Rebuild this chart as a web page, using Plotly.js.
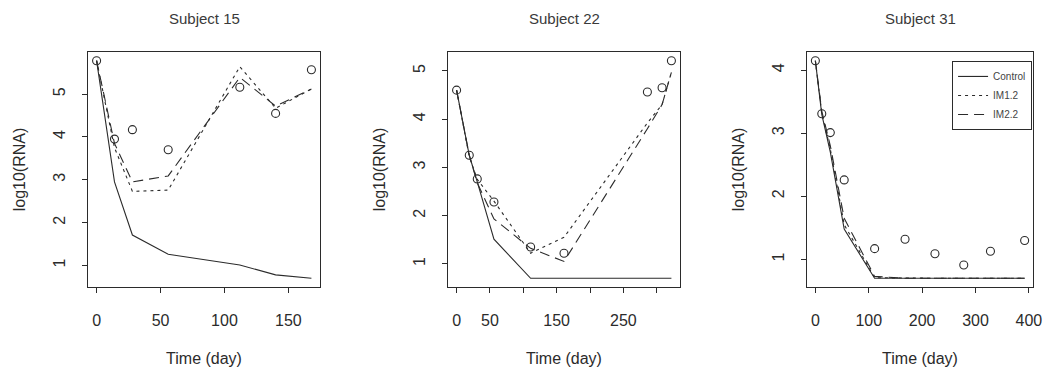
<!DOCTYPE html>
<html>
<head>
<meta charset="utf-8">
<script src="https://cdn.plot.ly/plotly-3.0.1.min.js"></script>
<style>html,body{margin:0;padding:0;background:#fff;}#chart{width:1055px;height:370px;}</style>
</head>
<body>
<div id="chart"></div>
<script>
// ---- Data ----
const subjects = ["Subject 15", "Subject 22", "Subject 31"];
const seriesNames = ["Control", "IM1.2", "IM2.2"];

const days15    = [0, 14, 28, 56, 112, 140, 168];
const obs15     = [5.78, 3.95, 4.17, 3.70, 5.16, 4.55, 5.57];
const control15 = [5.78, 2.95, 1.71, 1.26, 1.01, 0.78, 0.70];
const im1_15    = [5.78, 3.75, 2.73, 2.76, 5.64, 4.67, 5.12];
const im2_15    = [5.78, 3.85, 2.95, 3.09, 5.39, 4.72, 5.12];

const days22    = [0, 19, 31, 56, 111, 161, 286, 308, 322];
const obs22     = [4.60, 3.25, 2.76, 2.28, 1.35, 1.22, 4.56, 4.65, 5.21];
const control22 = [4.60, 3.25, 2.70, 1.51, 0.70, 0.70, 0.70, 0.70, 0.70];
const im1_22    = [4.60, 3.22, 2.75, 2.30, 1.22, 1.55, 3.92, 4.30, 4.97];
const im2_22    = [4.60, 3.25, 2.68, 1.93, 1.32, 1.05, 3.80, 4.30, 4.97];

const days31    = [0, 12, 28, 54, 111, 168, 224, 278, 328, 392];
const obs31     = [4.15, 3.31, 3.01, 2.26, 1.17, 1.32, 1.09, 0.91, 1.13, 1.30];
const control31 = [4.15, 3.30, 2.70, 1.48, 0.70, 0.70, 0.70, 0.70, 0.70, 0.70];
const im1_31    = [4.15, 3.32, 2.75, 1.55, 0.71, 0.70, 0.70, 0.70, 0.70, 0.70];
const im2_31    = [4.15, 3.35, 2.80, 1.65, 0.73, 0.70, 0.70, 0.70, 0.70, 0.70];

const xTicks15 = [0, 50, 100, 150];
const xTickText15 = ["0", "50", "100", "150"];
const xTicks22 = [0, 50, 100, 150, 200, 250, 300];
const xTickText22 = ["0", "50", "", "150", "", "250", ""];
const xTicks31 = [0, 100, 200, 300, 400];
const xTickText31 = ["0", "100", "200", "300", "400"];
const yTicks15 = [1, 2, 3, 4, 5];
const yTicks22 = [1, 2, 3, 4, 5];
const yTicks31 = [1, 2, 3, 4];

// ---- Build ----
const panels = [
  {days: days15, obs: obs15, fits: [control15, im1_15, im2_15], xt: xTicks15, xtt: xTickText15, yt: yTicks15},
  {days: days22, obs: obs22, fits: [control22, im1_22, im2_22], xt: xTicks22, xtt: xTickText22, yt: yTicks22},
  {days: days31, obs: obs31, fits: [control31, im1_31, im2_31], xt: xTicks31, xtt: xTickText31, yt: yTicks31}
];

const INK = "#2b2b2b";
const FONT = "Liberation Sans, Arial, Helvetica, sans-serif";
const dashes = ["solid", "3px,4px", "10px,6px"];

function rRange(arrs) {
  const all = [].concat(...arrs);
  const lo = Math.min(...all), hi = Math.max(...all);
  const e = (hi - lo) * 0.04;
  return [lo - e, hi + e];
}

const W = 1055, ML = 88, MR = 22;
const plotW = W - ML - MR;
const boxes = [[88, 320], [448, 680], [807, 1033]];

const traces = [];
const layout = {
  width: 1055, height: 370,
  margin: {l: ML, r: MR, t: 52, b: 83, pad: 0},
  paper_bgcolor: "#ffffff", plot_bgcolor: "#ffffff",
  font: {family: FONT, color: INK, size: 16},
  showlegend: true,
  legend: {
    x: 0.999, xanchor: "right", xref: "paper",
    y: 0.962, yanchor: "top", yref: "paper",
    bordercolor: INK, borderwidth: 1, bgcolor: "#ffffff",
    font: {family: FONT, size: 10, color: "#444"},
    itemwidth: 30, tracegroupgap: 0,
    entrywidth: 72, entrywidthmode: "pixels"
  },
  annotations: []
};

panels.forEach((p, i) => {
  const n = i === 0 ? "" : String(i + 1);
  const xa = "x" + n, ya = "y" + n;
  p.fits.forEach((f, k) => {
    traces.push({
      type: "scatter", mode: "lines", x: p.days, y: f,
      xaxis: xa, yaxis: ya, name: seriesNames[k],
      showlegend: i === 2, legendgroup: seriesNames[k],
      line: {color: INK, width: 1.1, dash: dashes[k]},
      hoverinfo: "x+y+name"
    });
  });
  traces.push({
    type: "scatter", mode: "markers", x: p.days, y: p.obs,
    xaxis: xa, yaxis: ya, name: "Observed", showlegend: false,
    marker: {symbol: "circle-open", size: 8, color: INK, line: {width: 1.1, color: INK}}
  });

  const dom = [(boxes[i][0] - ML) / plotW, (boxes[i][1] - ML) / plotW];
  const common = {
    showline: true, mirror: true, linecolor: INK, linewidth: 1,
    showgrid: false, zeroline: false,
    ticks: "outside", ticklen: 5, tickcolor: INK, tickwidth: 1,
    tickfont: {family: FONT, size: 16, color: INK},
    tickmode: "array", fixedrange: true
  };
  layout["xaxis" + n] = Object.assign({}, common, {
    domain: dom, anchor: ya,
    range: rRange([p.days]),
    tickvals: p.xt, ticktext: p.xtt,
    ticklabelstandoff: 14,
    title: {text: "Time (day)", font: {family: FONT, size: 16, color: INK}, standoff: 24}
  });
  layout["yaxis" + n] = Object.assign({}, common, {
    domain: [0, 1], anchor: xa,
    range: rRange([p.obs].concat(p.fits)),
    tickvals: p.yt, ticktext: p.yt.map(String),
    tickangle: -90, ticklabelstandoff: 11,
    title: {text: "log10(RNA)", font: {family: FONT, size: 16, color: INK}, standoff: 20}
  });
  layout.annotations.push({
    text: subjects[i], xref: xa + " domain", x: 0.5, xanchor: "center",
    yref: "paper", y: (287 - 18) / 235, yanchor: "middle",
    showarrow: false, font: {family: FONT, size: 15, color: "#3a3a3a"}
  });
});

Plotly.newPlot("chart", traces, layout, {displayModeBar: false, staticPlot: true});
</script>
</body>
</html>
